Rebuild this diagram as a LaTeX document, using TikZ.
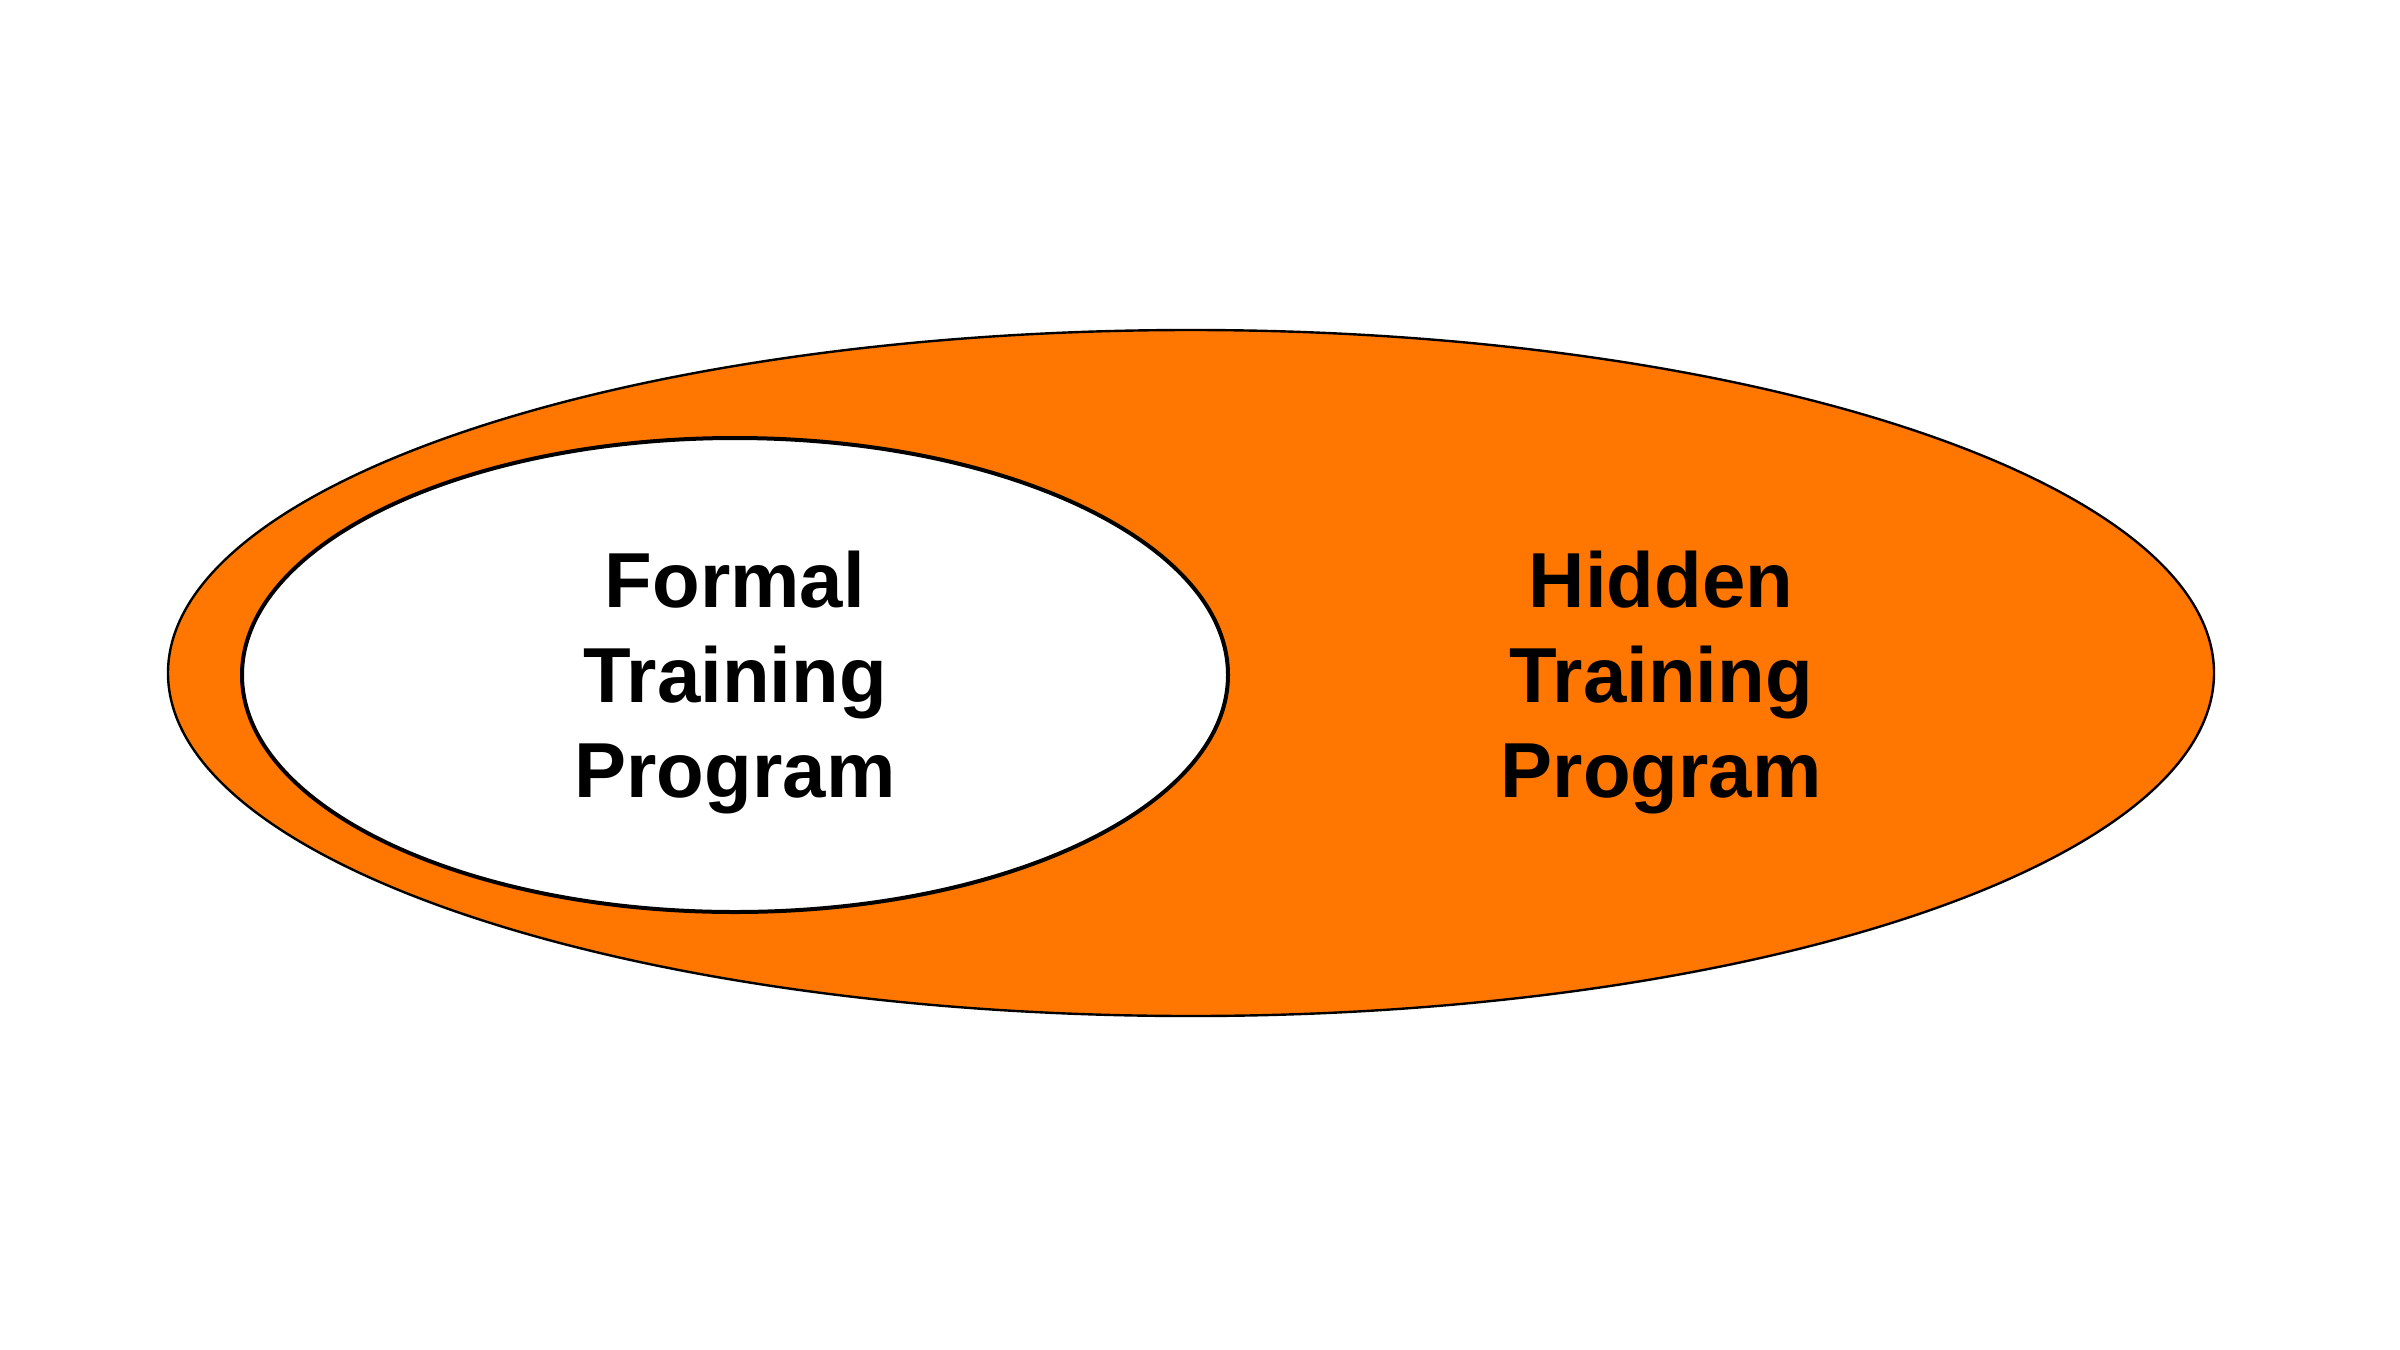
\documentclass[tikz,border=0pt]{standalone}
\usepackage{fontspec}
\setmainfont{Liberation Sans}
\definecolor{hiddenorange}{RGB}{255,119,0}
\begin{document}
\begin{tikzpicture}[x=0.5pt,y=-0.5pt,
  label/.style={font=\fontsize{39}{47.5}\selectfont\bfseries, align=center, text=black}]
\useasboundingbox (0,0) rectangle (2400,1350);
\fill[white] (0,0) rectangle (2400,1350);
\draw[fill=hiddenorange, line width=1.2pt] (1191,673) ellipse [x radius=1023, y radius=343];
\draw[fill=white, line width=2pt] (735,675) ellipse [x radius=493, y radius=237];
\node[label] (formal) at (735,682) {Formal\\Training\\Program};
\node[label] (hidden) at (1661,682) {Hidden\\Training\\Program};
\end{tikzpicture}
\end{document}
